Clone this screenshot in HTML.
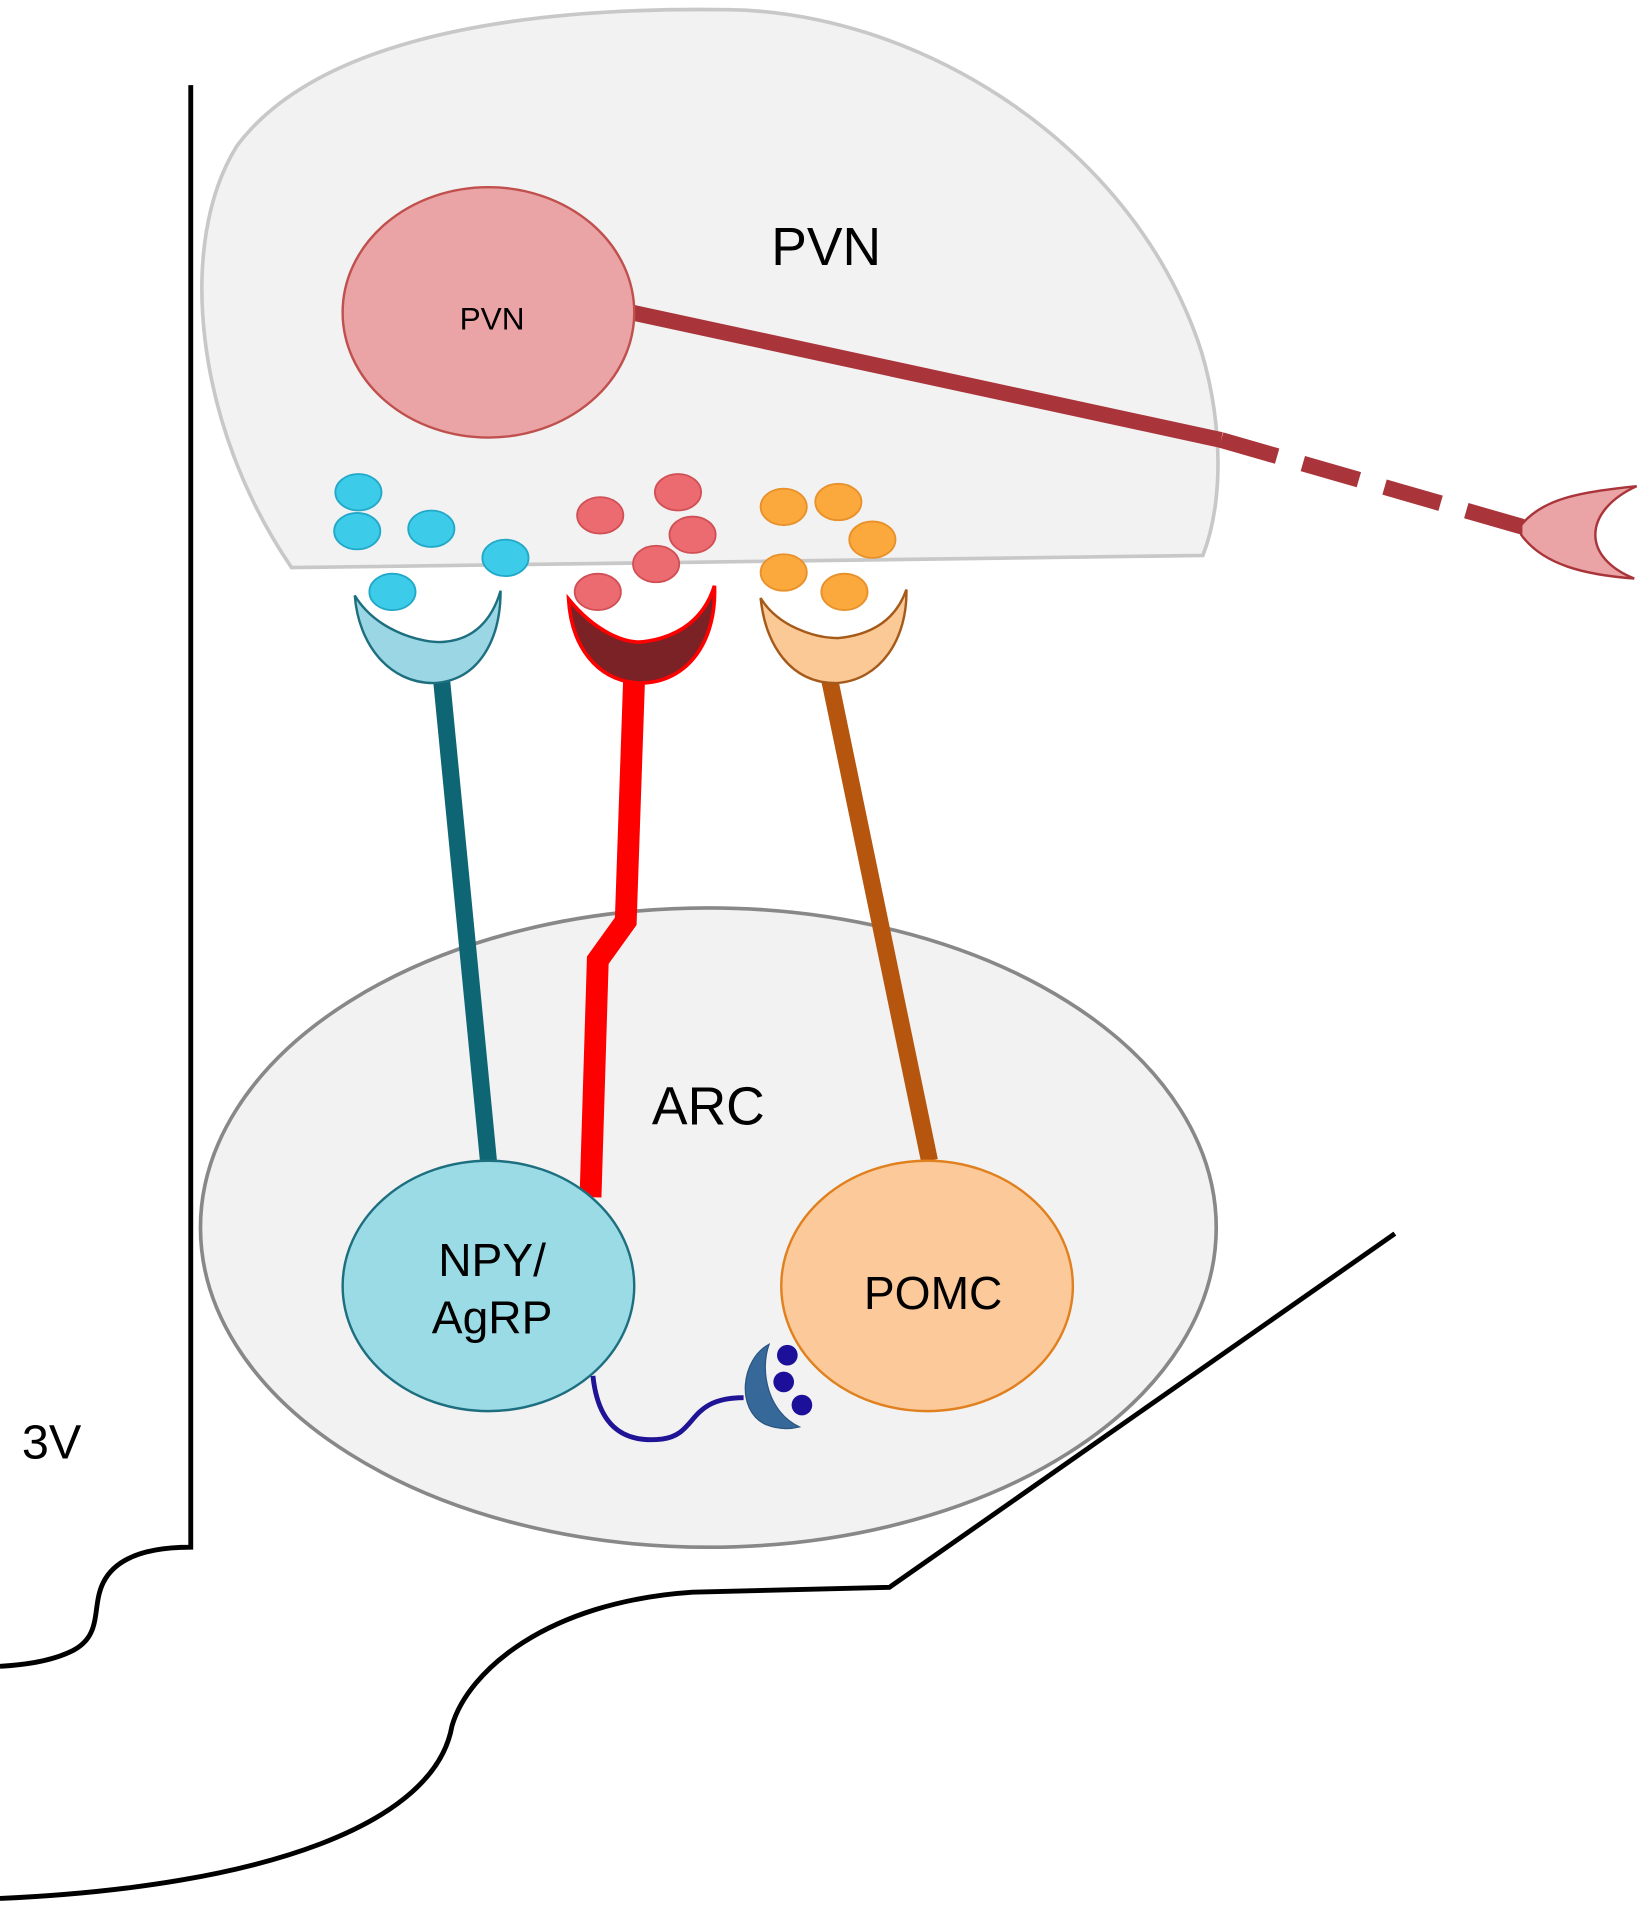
<!DOCTYPE html>
<html><head><meta charset="utf-8"><style>html,body{margin:0;padding:0;background:#fff;}svg{display:block;}</style></head>
<body>
<svg width="1650" height="1907" viewBox="0 0 1358 1569" preserveAspectRatio="none" xmlns="http://www.w3.org/2000/svg" font-family="Liberation Sans, sans-serif">
<!-- 3V outline -->
<path d="M157,70 L157,1273 C120,1273 95,1282 85,1302 C75,1322 85,1345 60,1358 C40,1368 15,1370 0,1371" fill="none" stroke="#000" stroke-width="4"/>
<path d="M1148,1015 L732,1306 L570,1310 C450,1318 385,1375 372,1420 C358,1500 220,1552 0,1562" fill="none" stroke="#000" stroke-width="4"/>
<text x="18" y="1200" font-size="40">3V</text>
<!-- PVN region -->
<path d="M240,467 L990,457 C1012,400 1002,320 982,270 C920,110 750,10 600,8 C400,5 255,40 195,120 C145,200 160,350 240,467 Z" fill="#f2f2f2" stroke="#c8c8c8" stroke-width="3"/>
<text x="680" y="218" font-size="44" text-anchor="middle">PVN</text>
<!-- axon -->
<line x1="515" y1="256" x2="1005" y2="362" stroke="#a9343a" stroke-width="13"/>
<line x1="1005" y1="362" x2="1255" y2="434" stroke="#a9343a" stroke-width="13" stroke-dasharray="48,22"/>
<path d="M1252,432 C1270,410 1300,405 1347,400 C1325,410 1313,425 1313,440 C1313,455 1325,468 1345,476 C1305,473 1270,465 1252,440 Z" fill="#eba4a6" stroke="#a9343a" stroke-width="2"/>
<ellipse cx="402" cy="257" rx="120" ry="103" fill="#eba4a6" stroke="#c0504d" stroke-width="2"/>
<text x="405" y="271" font-size="26" text-anchor="middle">PVN</text>
<!-- ARC -->
<ellipse cx="583" cy="1010" rx="418" ry="263" fill="#f2f2f2" stroke="#888" stroke-width="3"/>
<text x="583" y="925" font-size="44" text-anchor="middle">ARC</text>
<!-- stems -->
<line x1="363" y1="555" x2="402" y2="955" stroke="#0e6675" stroke-width="14"/>
<path d="M522,555 L515,758 L492,790 L486,985" fill="none" stroke="#ff0000" stroke-width="18"/>
<line x1="683" y1="560" x2="765" y2="955" stroke="#b5550e" stroke-width="14"/>
<!-- cups -->
<path d="M292,490 C310,520 350,530 366,528 C390,526 405,510 412,486 C412,525 395,560 357,562 C320,562 295,530 292,490 Z" fill="#9bd6e4" stroke="#1d6f80" stroke-width="2"/>
<path d="M468,493 C490,520 515,530 530,528 C560,524 580,508 588,482 C590,525 568,562 526,562 C490,560 470,530 468,493 Z" fill="#7b2227" stroke="#ff0000" stroke-width="3"/>
<path d="M626,492 C640,515 670,525 690,525 C720,522 738,508 746,485 C747,525 725,560 688,562 C650,562 630,530 626,492 Z" fill="#fac995" stroke="#a65a1a" stroke-width="2"/>
<!-- vesicles -->
<g fill="#3ccbe8" stroke="#22a8c8" stroke-width="1.5">
<ellipse cx="295" cy="405" rx="19" ry="15"/><ellipse cx="294" cy="437" rx="19" ry="15"/><ellipse cx="355" cy="435" rx="19" ry="15"/><ellipse cx="416" cy="459" rx="19" ry="15"/><ellipse cx="323" cy="487" rx="19" ry="15"/>
</g>
<g fill="#ec6b70" stroke="#d05055" stroke-width="1.5">
<ellipse cx="494" cy="424" rx="19" ry="15"/><ellipse cx="558" cy="405" rx="19" ry="15"/><ellipse cx="570" cy="440" rx="19" ry="15"/><ellipse cx="540" cy="464" rx="19" ry="15"/><ellipse cx="492" cy="487" rx="19" ry="15"/>
</g>
<g fill="#fba93d" stroke="#e8902a" stroke-width="1.5">
<ellipse cx="645" cy="417" rx="19" ry="15"/><ellipse cx="690" cy="413" rx="19" ry="15"/><ellipse cx="718" cy="444" rx="19" ry="15"/><ellipse cx="645" cy="471" rx="19" ry="15"/><ellipse cx="695" cy="487" rx="19" ry="15"/>
</g>
<!-- cells -->
<ellipse cx="402" cy="1058" rx="120" ry="103" fill="#9bdbe6" stroke="#1d6f80" stroke-width="2"/>
<text x="405" y="1050" font-size="38" text-anchor="middle">NPY/</text>
<text x="405" y="1097" font-size="38" text-anchor="middle">AgRP</text>
<ellipse cx="763" cy="1058" rx="120" ry="103" fill="#fbc99a" stroke="#e0801e" stroke-width="2"/>
<text x="768" y="1077" font-size="38" text-anchor="middle">POMC</text>
<!-- inhibitory synapse -->
<path d="M488,1132 C492,1170 510,1188 545,1184 C575,1180 565,1150 612,1150" fill="none" stroke="#1f1396" stroke-width="4"/>
<path d="M633,1106 C610,1118 605,1160 630,1172 C640,1176 650,1176 658,1174 C632,1162 625,1128 633,1106 Z" fill="#36689a" stroke="#2a5580" stroke-width="1"/>
<g fill="#1c0f9a"><circle cx="648" cy="1115" r="8.5"/><circle cx="645" cy="1137" r="8.5"/><circle cx="660" cy="1156" r="8.5"/></g>
</svg>
</body></html>
